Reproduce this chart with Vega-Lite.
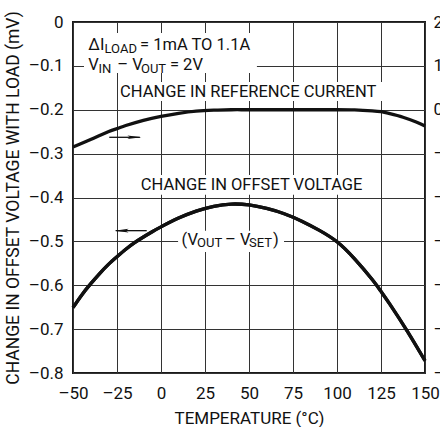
{
  "$schema": "https://vega.github.io/schema/vega-lite/v6.json",
  "width": 352,
  "height": 351,
  "autosize": {"type": "none"},
  "padding": {"left": 73, "top": 22, "right": 15, "bottom": 54},
  "config": {
    "font": "Roboto",
    "view": {"stroke": "#1a1a1a", "strokeWidth": 2},
    "axis": {
      "labelFont": "Roboto",
      "titleFont": "Roboto",
      "labelFontSize": 17,
      "titleFontSize": 17,
      "labelColor": "#111",
      "titleColor": "#111",
      "titleFontWeight": "normal",
      "ticks": false,
      "domain": false,
      "gridColor": "#333",
      "gridWidth": 1,
      "gridOpacity": 1
    },
    "text": {"font": "Roboto", "color": "#111"}
  },
  "datasets": {
    "offset": [
      {"t": -50, "v": -0.651}, {"t": -45, "v": -0.622}, {"t": -40, "v": -0.597},
      {"t": -35, "v": -0.574}, {"t": -30, "v": -0.553}, {"t": -25, "v": -0.535},
      {"t": -20, "v": -0.518}, {"t": -15, "v": -0.503}, {"t": -10, "v": -0.49},
      {"t": -5, "v": -0.478}, {"t": 0, "v": -0.467}, {"t": 10, "v": -0.447},
      {"t": 20, "v": -0.431}, {"t": 30, "v": -0.42}, {"t": 40, "v": -0.415},
      {"t": 50, "v": -0.417}, {"t": 60, "v": -0.425}, {"t": 70, "v": -0.437},
      {"t": 80, "v": -0.454}, {"t": 90, "v": -0.475}, {"t": 100, "v": -0.501},
      {"t": 110, "v": -0.54}, {"t": 120, "v": -0.587}, {"t": 125, "v": -0.614},
      {"t": 130, "v": -0.643}, {"t": 140, "v": -0.705}, {"t": 150, "v": -0.772}
    ],
    "refcur": [
      {"t": -50, "r": -0.85}, {"t": -40, "r": -0.68}, {"t": -30, "r": -0.5},
      {"t": -25, "r": -0.43}, {"t": -20, "r": -0.36}, {"t": -10, "r": -0.24},
      {"t": 0, "r": -0.15}, {"t": 10, "r": -0.08}, {"t": 20, "r": -0.03},
      {"t": 30, "r": -0.01}, {"t": 40, "r": 0}, {"t": 50, "r": 0},
      {"t": 75, "r": 0}, {"t": 100, "r": 0}, {"t": 110, "r": -0.005},
      {"t": 120, "r": -0.025}, {"t": 125, "r": -0.045}, {"t": 130, "r": -0.09},
      {"t": 137.5, "r": -0.17}, {"t": 145, "r": -0.28}, {"t": 150, "r": -0.37}
    ],
    "boxes": [
      {"x1": -43.75, "x2": 54.5, "y1": -0.025, "y2": -0.116},
      {"x1": -23.9, "x2": 125.6, "y1": -0.137, "y2": -0.18},
      {"x1": -12.5, "x2": 113.6, "y1": -0.349, "y2": -0.394},
      {"x1": 9.7, "x2": 69.9, "y1": -0.476, "y2": -0.524}
    ],
    "labels": [
      {"x": -41.3, "y": -0.0524, "txt": "ΔI", "size": 16.5},
      {"x": -32.1, "y": -0.0615, "txt": "LOAD", "size": 13},
      {"x": -11.9, "y": -0.0524, "txt": "= 1mA TO 1.1A", "size": 16.5},
      {"x": -41.3, "y": -0.098, "txt": "V", "size": 16.5},
      {"x": -35.5, "y": -0.107, "txt": "IN", "size": 13},
      {"x": -24.8, "y": -0.098, "txt": "– V", "size": 16.5},
      {"x": -11.4, "y": -0.107, "txt": "OUT", "size": 13},
      {"x": 5.1, "y": -0.098, "txt": "= 2V", "size": 16.5},
      {"x": -23.3, "y": -0.159, "txt": "CHANGE IN REFERENCE CURRENT", "size": 16.5},
      {"x": -11.5, "y": -0.3715, "txt": "CHANGE IN OFFSET VOLTAGE", "size": 16.5},
      {"x": 11.7, "y": -0.497, "txt": "(V", "size": 16.5},
      {"x": 20.5, "y": -0.504, "txt": "OUT", "size": 13},
      {"x": 36.4, "y": -0.497, "txt": "– V", "size": 16.5},
      {"x": 50.0, "y": -0.504, "txt": "SET", "size": 13},
      {"x": 63.6, "y": -0.497, "txt": ")", "size": 16.5}
    ],
    "arrows": [
      {"xa": -29.4, "xb": -12.0, "y": -0.2628, "hx": -15.1, "dir": "right"},
      {"xa": -25.7, "xb": -8.1, "y": -0.4756, "hx": -22.4, "dir": "left"}
    ]
  },
  "layer": [
    {
      "layer": [
        {
          "data": {"name": "offset"},
          "mark": {"type": "line", "color": "#111", "strokeWidth": 3.3, "interpolate": "natural"},
          "encoding": {
            "x": {
              "field": "t", "type": "quantitative",
              "scale": {"domain": [-50, 150], "nice": false},
              "axis": {
                "values": [-50, -25, 0, 25, 50, 75, 100, 125, 150],
                "labelExpr": "datum.value < 0 ? '–' + abs(datum.value) : '' + datum.value",
                "labelPadding": 12,
                "title": "TEMPERATURE (°C)",
                "titlePadding": 9,
                "labelFlush": false
              }
            },
            "y": {
              "field": "v", "type": "quantitative",
              "scale": {"domain": [-0.8, 0], "nice": false},
              "axis": {
                "values": [-0.8, -0.7, -0.6, -0.5, -0.4, -0.3, -0.2, -0.1, 0],
                "labelExpr": "datum.value == 0 ? '0' : '–' + format(abs(datum.value), '.1f')",
                "labelPadding": 10,
                "title": "CHANGE IN OFFSET VOLTAGE WITH LOAD (mV)",
                "titleFontSize": 17.5,
                "titlePadding": 6,
                "labelFlush": false
              }
            }
          }
        },
        {
          "data": {"name": "boxes"},
          "mark": {"type": "rect", "fill": "white"},
          "encoding": {
            "x": {"field": "x1", "type": "quantitative"},
            "x2": {"field": "x2"},
            "y": {"field": "y1", "type": "quantitative"},
            "y2": {"field": "y2"}
          }
        },
        {
          "data": {"name": "offset"},
          "mark": {"type": "line", "color": "#111", "strokeWidth": 3.3, "interpolate": "natural"},
          "encoding": {
            "x": {"field": "t", "type": "quantitative"},
            "y": {"field": "v", "type": "quantitative"}
          }
        },
        {
          "data": {"name": "labels"},
          "mark": {"type": "text", "align": "left", "baseline": "middle"},
          "encoding": {
            "x": {"field": "x", "type": "quantitative"},
            "y": {"field": "y", "type": "quantitative"},
            "text": {"field": "txt"},
            "size": {"field": "size", "type": "quantitative", "scale": null}
          }
        },
        {
          "data": {"name": "arrows"},
          "mark": {"type": "rule", "color": "#111", "strokeWidth": 1.3},
          "encoding": {
            "x": {"field": "xa", "type": "quantitative"},
            "x2": {"field": "xb"},
            "y": {"field": "y", "type": "quantitative"}
          }
        },
        {
          "data": {"name": "arrows"},
          "mark": {"type": "point", "filled": true, "color": "#111", "opacity": 1, "size": 196, "strokeWidth": 0},
          "encoding": {
            "x": {"field": "hx", "type": "quantitative"},
            "y": {"field": "y", "type": "quantitative"},
            "shape": {
              "field": "dir", "type": "nominal", "legend": null,
              "scale": {"domain": ["right", "left"], "range": ["M1,0L-1,-0.26L-0.6,0L-1,0.26Z", "M-1,0L1,-0.26L0.6,0L1,0.26Z"]}
            }
          }
        }
      ]
    },
    {
      "data": {"name": "refcur"},
      "mark": {"type": "line", "color": "#111", "strokeWidth": 3.3, "interpolate": "natural"},
      "encoding": {
        "x": {"field": "t", "type": "quantitative"},
        "y": {
          "field": "r", "type": "quantitative",
          "scale": {"domain": [-6, 2], "nice": false},
          "axis": {
            "orient": "right",
            "values": [-6, -5, -4, -3, -2, -1, 0, 1, 2],
            "labelExpr": "datum.value < 0 ? '–' + abs(datum.value) : '' + datum.value",
            "labelPadding": 8,
            "grid": false,
            "title": null,
            "labelFlush": false
          }
        }
      }
    }
  ],
  "resolve": {"scale": {"y": "independent"}}
}
